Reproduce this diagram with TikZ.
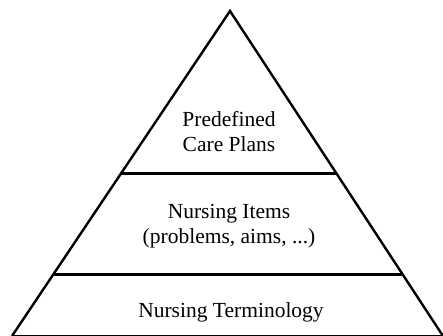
\documentclass[tikz,border=0pt]{standalone}
\usepackage{fontspec}
\setmainfont{Liberation Serif}
\usetikzlibrary{calc}
\begin{document}
\begin{tikzpicture}[x=1pt,y=-1pt,line join=miter]

	\def \upper{174}
	\def \lower{275}
	\tikzstyle{level}=[text centered,align=center,inner sep=0pt,font=\fontsize{21.5}{25}\selectfont]
	\tikzstyle{side}=[line width=2.4pt]
	\tikzstyle{divider}=[line width=3pt]
	\useasboundingbox (0,0) rectangle (443,336);

	% corners
	\coordinate (apex) at (230,11);
	\coordinate (bl)   at (12,336);
	\coordinate (br)   at (443,336);

	% dividers
	\coordinate (ul) at ($(apex)!{(\upper-11)/325}!(bl)$);
	\coordinate (ur) at ($(apex)!{(\upper-11)/325}!(br)$);
	\coordinate (ml) at ($(apex)!{(\lower-11)/325}!(bl)$);
	\coordinate (mr) at ($(apex)!{(\lower-11)/325}!(br)$);

	% pyramid
	\draw[side] (bl) -- (apex) -- (br);
	\draw[line width=2pt] (bl) -- (br);
	\draw[divider] (ul) -- (ur);
	\draw[divider] (ml) -- (mr);

	% labels
	\node[level] (plans) at (229,132) {Predefined\\Care Plans};
	\node[level] (items) at (229,226) {Nursing Items\\(problems, aims, ...)};
	\node[level,anchor=base] (terms) at (231,317) {Nursing Terminology};
\end{tikzpicture}
\end{document}
